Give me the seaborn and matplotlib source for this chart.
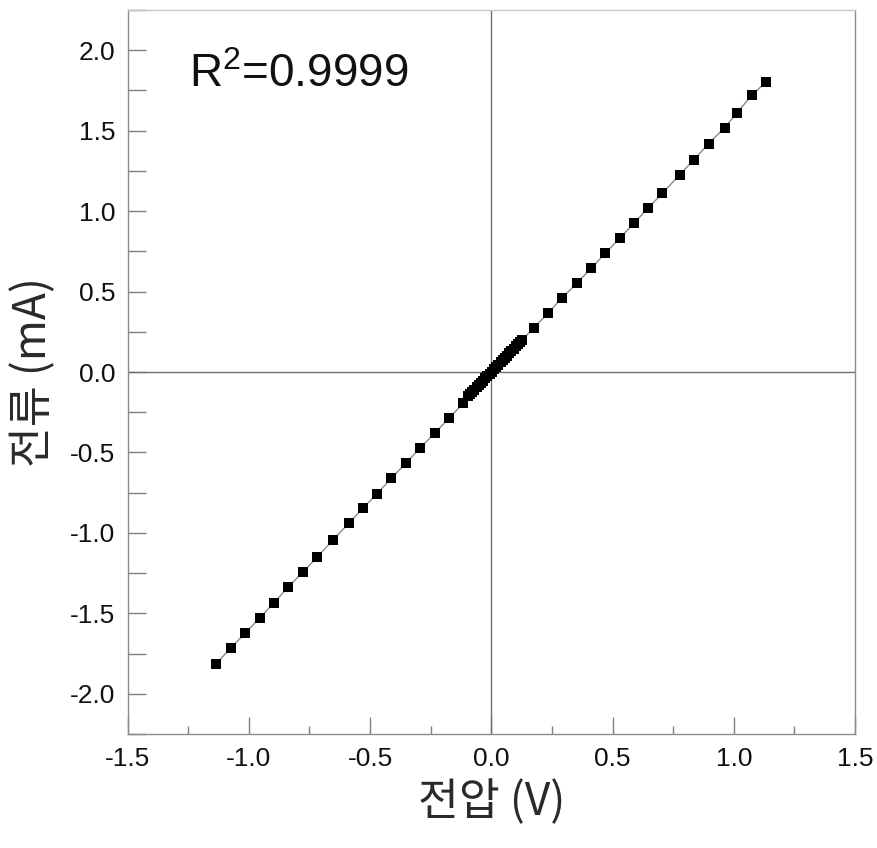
import matplotlib
matplotlib.use('Agg')
import matplotlib.pyplot as plt
import seaborn as sns
import pandas as pd
from matplotlib.ticker import MultipleLocator

voltage_neg = [-1.137, -1.075, -1.014, -0.955, -0.898, -0.837, -0.778, -0.717,
               -0.652, -0.588, -0.529, -0.471, -0.412, -0.353, -0.295, -0.234,
               -0.175, -0.116]
current_neg = [-1.816, -1.716, -1.621, -1.528, -1.437, -1.335, -1.244, -1.148,
               -1.042, -0.940, -0.845, -0.756, -0.660, -0.567, -0.474, -0.381,
               -0.288, -0.194]

voltage_mid = [-0.097, -0.088, -0.079, -0.070, -0.061, -0.052, -0.043, -0.034,
               -0.025, -0.016, -0.007, 0.002, 0.011, 0.020, 0.029, 0.038,
               0.047, 0.056, 0.065, 0.074, 0.083, 0.092, 0.101, 0.110,
               0.118, 0.125]
current_mid = [-0.152, -0.138, -0.124, -0.110, -0.096, -0.082, -0.068, -0.054,
               -0.040, -0.025, -0.011, 0.003, 0.017, 0.031, 0.046, 0.060,
               0.074, 0.088, 0.102, 0.116, 0.130, 0.145, 0.159, 0.173,
               0.186, 0.196]

voltage_pos = [0.174, 0.234, 0.291, 0.352, 0.412, 0.470, 0.532, 0.588, 0.646,
               0.705, 0.777, 0.836, 0.896, 0.962, 1.014, 1.076, 1.132]
current_pos = [0.273, 0.366, 0.460, 0.551, 0.645, 0.739, 0.836, 0.924, 1.019,
               1.110, 1.227, 1.320, 1.420, 1.519, 1.612, 1.724, 1.801]

r2_label = 'R$^2$=0.9999'
x_label = '전압 (V)'
y_label = '전류 (mA)'

df = pd.DataFrame({
    'V': voltage_neg + voltage_mid + voltage_pos,
    'I': current_neg + current_mid + current_pos,
})

sns.set_style('white')
plt.rcParams['font.family'] = ['Liberation Sans', 'DejaVu Sans']
plt.rcParams['mathtext.fontset'] = 'custom'
plt.rcParams['mathtext.rm'] = 'Liberation Sans'
plt.rcParams['mathtext.it'] = 'Liberation Sans:italic'

fig = plt.figure(figsize=(8.77, 8.48), dpi=100)
ax = fig.add_axes([0.1455, 0.1344, 0.8295, 0.8538])

ax.axhline(0, color='#707070', lw=1.0, zorder=1)
ax.axvline(0, color='#707070', lw=1.0, zorder=1)

sns.lineplot(data=df, x='V', y='I', sort=False, estimator=None,
             color='#8a8a8a', lw=1.0, ax=ax, zorder=2)
sns.scatterplot(data=df, x='V', y='I', marker='s', s=44, color='black',
                edgecolor='black', linewidth=0, ax=ax, zorder=3)

ax.set_xlim(-1.5, 1.5)
ax.set_ylim(-2.25, 2.25)
ax.xaxis.set_major_locator(MultipleLocator(0.5))
ax.xaxis.set_minor_locator(MultipleLocator(0.25))
ax.yaxis.set_major_locator(MultipleLocator(0.5))
ax.yaxis.set_minor_locator(MultipleLocator(0.25))
ax.xaxis.set_major_formatter(plt.FormatStrFormatter('%.1f'))
ax.yaxis.set_major_formatter(plt.FormatStrFormatter('%.1f'))

ax.tick_params(which='both', direction='in', color='#808080', width=1.0,
               bottom=True, left=True, top=False, right=False,
               labelsize=19, labelcolor='#111111')
ax.tick_params(axis='x', which='major', length=12, pad=9)
ax.tick_params(axis='x', which='minor', length=6)
ax.tick_params(axis='y', which='major', length=13, pad=9)
ax.tick_params(axis='y', which='minor', length=13)

for side in ['left', 'bottom', 'right', 'top']:
    ax.spines[side].set_color('#8c8c8c')
    ax.spines[side].set_linewidth(1.0)
ax.spines['top'].set_color('#c8c8c8')

kfont = ['Noto Sans CJK KR', 'DejaVu Sans']
ax.set_xlabel(x_label, fontsize=32, family=kfont,
              color='#2a2a2a', labelpad=6)
ax.set_ylabel(y_label, fontsize=32, family=kfont,
              color='#2a2a2a', labelpad=10)

ax.text(-1.245, 1.77, r2_label, fontsize=33, va='baseline', ha='left',
        color='#111111')

fig.savefig('out.png', dpi=100)
plt.close(fig)
